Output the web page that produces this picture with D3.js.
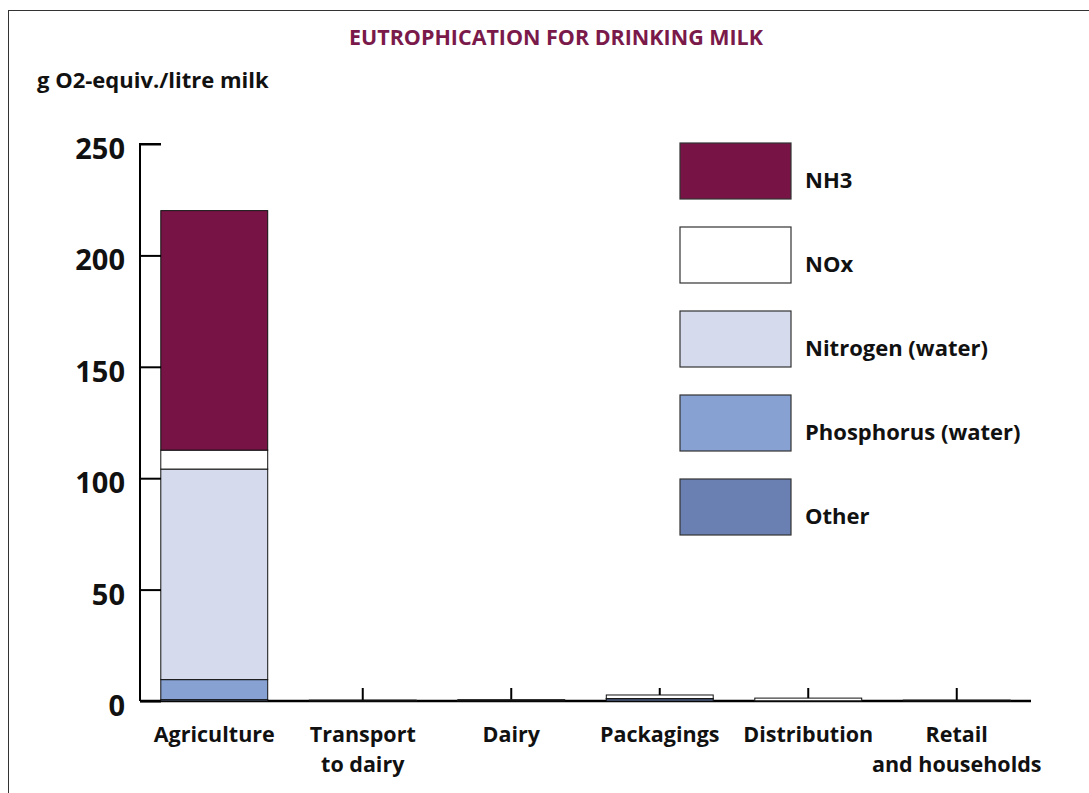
<!DOCTYPE html>
<html>
<head>
<meta charset="utf-8">
<script src="https://cdn.jsdelivr.net/npm/d3@7"></script>
<style>
  html, body { margin: 0; padding: 0; background: #fff; }
  svg { display: block; }
  text { font-family: "Open Sans", Lato, sans-serif; font-weight: 700; fill: #111; }
</style>
</head>
<body>
<svg id="chart" width="1089" height="793"></svg>
<script>
const categories = ["Agriculture", "Transport to dairy", "Dairy", "Packagings", "Distribution", "Retail and households"];
const categoryLines = [["Agriculture"], ["Transport", "to dairy"], ["Dairy"], ["Packagings"], ["Distribution"], ["Retail", "and households"]];
const seriesNames = ["Other", "Phosphorus (water)", "Nitrogen (water)", "NOx", "NH3"];
const otherValues = [0.6, 0.1, 0.2, 1.0, 0.1, 0.1];
const phosphorusValues = [9.0, 0, 0, 0, 0, 0];
const nitrogenValues = [94.5, 0, 0, 0.1, 0, 0];
const noxValues = [8.5, 0.3, 0.4, 1.6, 1.2, 0.3];
const nh3Values = [107.5, 0, 0, 0, 0, 0];
const yTicks = [0, 50, 100, 150, 200, 250];
const legendOrder = ["NH3", "NOx", "Nitrogen (water)", "Phosphorus (water)", "Other"];
const colors = {
  "NH3": "#771445",
  "NOx": "#ffffff",
  "Nitrogen (water)": "#d5dbec",
  "Phosphorus (water)": "#87a1d2",
  "Other": "#6a80b2"
};

const seriesValues = {
  "Other": otherValues,
  "Phosphorus (water)": phosphorusValues,
  "Nitrogen (water)": nitrogenValues,
  "NOx": noxValues,
  "NH3": nh3Values
};
const table = categories.map((c, i) => {
  const row = { category: c };
  seriesNames.forEach(s => row[s] = seriesValues[s][i]);
  return row;
});

const svg = d3.select("#chart");

// frame
svg.append("rect").attr("x", 8.5).attr("y", 10.5).attr("width", 1100).attr("height", 800)
  .attr("fill", "none").attr("stroke", "#333").attr("stroke-width", 1);

const x = d3.scaleBand().domain(categories).range([140, 1031]).paddingInner(0.28).paddingOuter(0.14);
const y = d3.scaleLinear().domain([0, 250]).range([701, 144]);

// title
svg.append("text").attr("x", 556).attr("y", 45).attr("text-anchor", "middle")
  .style("fill", "#7a1a4a").style("font-size", "21px")
  .attr("textLength", 414).attr("lengthAdjust", "spacingAndGlyphs")
  .text("EUTROPHICATION FOR DRINKING MILK");

// y label
svg.append("text").attr("x", 37).attr("y", 88).style("font-size", "22px").text("g O2-equiv./litre milk");

// x axis ticks (upward) drawn beneath bars
const xAxisG = svg.append("g").attr("transform", "translate(0,701)");
xAxisG.selectAll("line.tick").data(categories).join("line")
  .attr("x1", d => x(d) + x.bandwidth() / 2).attr("x2", d => x(d) + x.bandwidth() / 2)
  .attr("y1", 0).attr("y2", -13).attr("stroke", "#000").attr("stroke-width", 2);

// stacked bars
const stack = d3.stack().keys(seriesNames)(table);
svg.append("g").selectAll("g").data(stack).join("g")
  .attr("fill", d => colors[d.key])
  .selectAll("rect").data(d => d).join("rect")
  .attr("x", d => x(d.data.category))
  .attr("width", x.bandwidth())
  .attr("y", d => y(d[1]))
  .attr("height", d => Math.max(0, y(d[0]) - y(d[1])))
  .attr("stroke", "#111").attr("stroke-width", 1);

// x axis line
xAxisG.append("line").attr("x1", 140).attr("x2", 1031).attr("y1", 0).attr("y2", 0)
  .attr("stroke", "#000").attr("stroke-width", 2.5);

// category labels
const labG = svg.append("g");
categories.forEach((c, i) => {
  const t = labG.append("text").attr("text-anchor", "middle").style("font-size", "21.5px")
    .attr("x", x(c) + x.bandwidth() / 2).attr("y", 742);
  categoryLines[i].forEach((ln, j) => {
    t.append("tspan").attr("x", x(c) + x.bandwidth() / 2).attr("dy", j === 0 ? 0 : 30).text(ln);
  });
});

// y axis
const yAxis = d3.axisRight(y).tickValues(yTicks).tickSize(21).tickFormat("");
const yG = svg.append("g").attr("transform", "translate(140,0)").call(yAxis);
yG.select(".domain").attr("stroke", "#000").attr("stroke-width", 2).attr("d", `M21,${y(250)}H0V${y(0)}`);
yG.selectAll(".tick line").attr("stroke", "#000").attr("stroke-width", 2);
svg.append("g").selectAll("text").data(yTicks).join("text")
  .attr("x", 125).attr("y", d => y(d) + 15).attr("text-anchor", "end")
  .style("font-size", "29px").text(d => d);

// legend
const lg = svg.append("g").attr("transform", "translate(680,143)");
const items = lg.selectAll("g").data(legendOrder).join("g")
  .attr("transform", (d, i) => `translate(0,${i * 84})`);
items.append("rect").attr("width", 111).attr("height", 56)
  .attr("fill", d => colors[d]).attr("stroke", "#333").attr("stroke-width", 1.2);
items.append("text").attr("x", 125).attr("y", 45).style("font-size", "22px").text(d => d);
</script>
</body>
</html>
